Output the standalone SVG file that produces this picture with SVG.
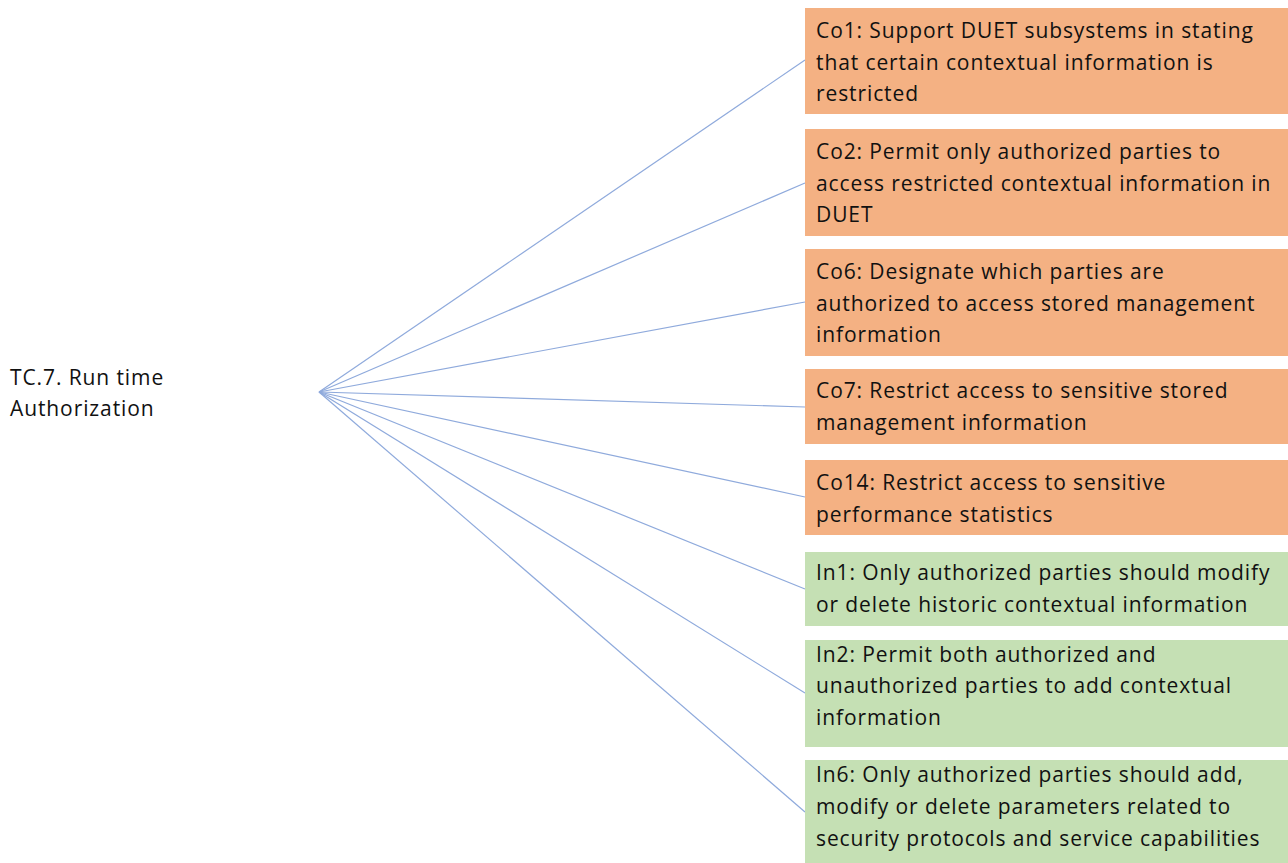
<svg xmlns="http://www.w3.org/2000/svg" width="1288" height="863" viewBox="0 0 1288 863">
  <style>
    text { font-family: "Open Sans", "Lato", "Liberation Sans", sans-serif; font-size: 21px; letter-spacing: 0.9px; fill: #111111; }
    .co { fill: #F4B183; }
    .in { fill: #C5E0B4; }
    .link { stroke: #8FAADC; stroke-width: 1.2; fill: none; }
  </style>
  <rect x="0" y="0" width="1288" height="863" fill="#ffffff"/>

  <g id="connectors">
    <line class="link" x1="319" y1="392" x2="805" y2="60"/>
    <line class="link" x1="319" y1="392" x2="805" y2="183"/>
    <line class="link" x1="319" y1="392" x2="805" y2="302"/>
    <line class="link" x1="319" y1="392" x2="805" y2="407"/>
    <line class="link" x1="319" y1="392" x2="805" y2="497"/>
    <line class="link" x1="319" y1="392" x2="805" y2="589"/>
    <line class="link" x1="319" y1="392" x2="805" y2="693"/>
    <line class="link" x1="319" y1="392" x2="805" y2="812"/>
  </g>

  <g id="tc7">
    <text x="10" y="385">TC.7. Run time</text>
    <text x="10" y="416">Authorization</text>
  </g>

  <g id="co1">
    <rect class="co" x="805" y="8" width="483" height="106"/>
    <text x="816" y="38">Co1: Support DUET subsystems in stating</text>
    <text x="816" y="70">that certain contextual information is</text>
    <text x="816" y="101">restricted</text>
  </g>

  <g id="co2">
    <rect class="co" x="805" y="129" width="483" height="107"/>
    <text x="816" y="159">Co2: Permit only authorized parties to</text>
    <text x="816" y="191">access restricted contextual information in</text>
    <text x="816" y="222">DUET</text>
  </g>

  <g id="co6">
    <rect class="co" x="805" y="249" width="483" height="107"/>
    <text x="816" y="279">Co6: Designate which parties are</text>
    <text x="816" y="311">authorized to access stored management</text>
    <text x="816" y="342">information</text>
  </g>

  <g id="co7">
    <rect class="co" x="805" y="369" width="483" height="75"/>
    <text x="816" y="398">Co7: Restrict access to sensitive stored</text>
    <text x="816" y="430">management information</text>
  </g>

  <g id="co14">
    <rect class="co" x="805" y="460" width="483" height="75"/>
    <text x="816" y="490">Co14: Restrict access to sensitive</text>
    <text x="816" y="522">performance statistics</text>
  </g>

  <g id="in1">
    <rect class="in" x="805" y="552" width="483" height="74"/>
    <text x="816" y="580">In1: Only authorized parties should modify</text>
    <text x="816" y="612">or delete historic contextual information</text>
  </g>

  <g id="in2">
    <rect class="in" x="805" y="640" width="483" height="107"/>
    <text x="816" y="662">In2: Permit both authorized and</text>
    <text x="816" y="693">unauthorized parties to add contextual</text>
    <text x="816" y="725">information</text>
  </g>

  <g id="in6">
    <rect class="in" x="805" y="760" width="483" height="103"/>
    <text x="816" y="782">In6: Only authorized parties should add,</text>
    <text x="816" y="814">modify or delete parameters related to</text>
    <text x="816" y="846">security protocols and service capabilities</text>
  </g>
</svg>
